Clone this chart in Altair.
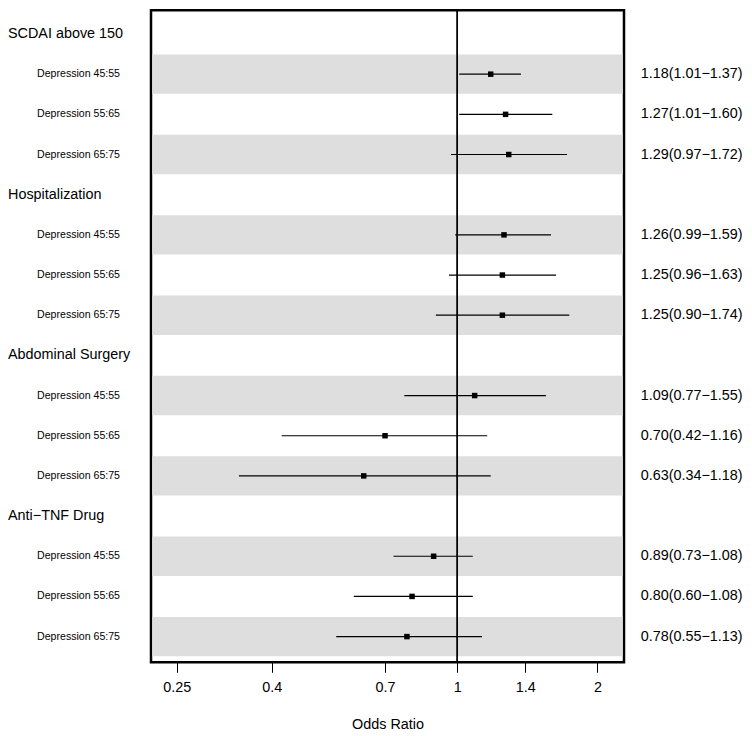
import altair as alt
import pandas as pd

groups = ["SCDAI above 150", "Hospitalization", "Abdominal Surgery", "Anti\u2212TNF Drug"]
items = ["Depression 45:55", "Depression 55:65", "Depression 65:75"]
or_vals = [1.18, 1.27, 1.29, 1.26, 1.25, 1.25, 1.09, 0.70, 0.63, 0.89, 0.80, 0.78]
lo_vals = [1.01, 1.01, 0.97, 0.99, 0.96, 0.90, 0.77, 0.42, 0.34, 0.73, 0.60, 0.55]
hi_vals = [1.37, 1.60, 1.72, 1.59, 1.63, 1.74, 1.55, 1.16, 1.18, 1.08, 1.08, 1.13]
tick_vals = [0.25, 0.4, 0.7, 1, 1.4, 2]

W, H = 473, 652
FONT = "Liberation Sans"

header_rows = []
item_rows = []
row = 1
k = 0
for g in groups:
    header_rows.append({"row": row, "label": g})
    row += 1
    for j, it in enumerate(items):
        o, l, h = or_vals[k], lo_vals[k], hi_vals[k]
        item_rows.append({
            "row": row, "label": it, "or": o, "lo": l, "hi": h,
            "txt": f"{o:.2f}({l:.2f}\u2212{h:.2f})",
            "shade": j != 1, "y0": row - 0.49, "y1": row + 0.49,
        })
        row += 1
        k += 1

hdf = pd.DataFrame(header_rows)
idf = pd.DataFrame(item_rows)

xscale = alt.Scale(type="log", domain=[0.2202, 2.28], nice=False, zero=False)
yscale = alt.Scale(domain=[0.41, 16.64], reverse=True, nice=False, zero=False)

xaxis = alt.Axis(values=tick_vals, format="~g", domain=False, grid=False,
                 tickSize=10, tickColor="black", tickWidth=1,
                 labelFont=FONT, labelFontSize=14.4, labelColor="black", labelPadding=8,
                 title="Odds Ratio", titleFont=FONT, titleFontSize=14.4,
                 titleFontWeight="normal", titleColor="black", titlePadding=23.5)

base_i = alt.Chart(idf)

bands = base_i.transform_filter("datum.shade").mark_rect(color="#dedede").encode(
    x=alt.value(1.3), x2=alt.value(W - 1.3),
    y=alt.Y("y0:Q", scale=yscale, axis=None), y2="y1:Q")

vline = alt.Chart(hdf).mark_rule(color="black", strokeWidth=1).encode(
    x=alt.datum(1, scale=xscale, axis=xaxis))

ci = base_i.mark_rule(color="black", strokeWidth=1.2).encode(
    x=alt.X("lo:Q", scale=xscale, axis=xaxis), x2="hi:Q",
    y=alt.Y("row:Q", scale=yscale, axis=None))

pts = base_i.mark_square(color="black", size=30, opacity=1).encode(
    x=alt.X("or:Q", scale=xscale, axis=xaxis),
    y=alt.Y("row:Q", scale=yscale, axis=None))

rtxt = base_i.mark_text(align="left", baseline="middle", font=FONT, fontSize=14.4, color="black").encode(
    x=alt.value(489.7), y=alt.Y("row:Q", scale=yscale, axis=None), text="txt:N")

itxt = base_i.mark_text(align="right", baseline="middle", font=FONT, fontSize=10.6, color="black").encode(
    x=alt.value(-31), y=alt.Y("row:Q", scale=yscale, axis=None), text="label:N")

htxt = alt.Chart(hdf).mark_text(align="left", baseline="middle", font=FONT, fontSize=14.4, color="black").encode(
    x=alt.value(-143), y=alt.Y("row:Q", scale=yscale, axis=None), text="label:N")

chart = alt.layer(bands, vline, ci, pts, rtxt, itxt, htxt).properties(
    width=W, height=H, padding={"left": 0, "top": 1.3, "right": 0, "bottom": 0}
).configure_view(stroke="black", strokeWidth=2.5)

chart.save("out.html", embed_options={"renderer": "svg", "actions": False})
